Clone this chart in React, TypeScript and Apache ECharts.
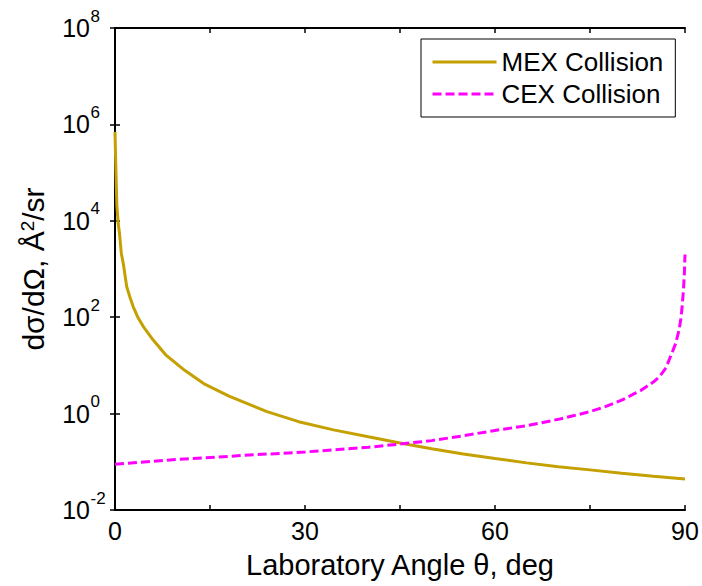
import React, { useEffect, useRef } from "react";
import * as echarts from "echarts";

const mexTheta = [0, 0.15, 0.3, 0.5, 0.7, 1.0, 1.3, 1.85, 2.4, 2.9, 3.6, 4.5, 6, 8, 11, 14, 18, 24, 29, 34.5, 40, 45, 50, 55, 60, 65, 70, 75, 80, 85, 90];
const mexValues = [7e5, 1e5, 2e4, 8900, 5600, 2100, 1320, 427, 250, 162, 100, 63, 34, 16.6, 7.9, 4.2, 2.3, 1.1, 0.68, 0.46, 0.33, 0.245, 0.186, 0.145, 0.117, 0.095, 0.079, 0.068, 0.058, 0.05, 0.044];

const cexTheta = [0, 10, 20, 30, 40, 45, 50, 55, 60, 65, 70, 72.5, 75, 77.5, 80, 81, 82, 83, 84, 85, 86, 87, 88, 88.5, 89, 89.3, 89.5, 89.75, 89.9, 90];
const cexValues = [0.089, 0.112, 0.135, 0.16, 0.2, 0.234, 0.275, 0.347, 0.447, 0.562, 0.76, 0.91, 1.1, 1.41, 1.9, 2.2, 2.6, 3.0, 3.7, 4.5, 5.9, 8.9, 19, 28, 50, 83, 141, 355, 800, 2000];

const xTickLabels = [0, 30, 60, 90];
const yTickExponents = [-2, 0, 2, 4, 6, 8];
const seriesNames = ["MEX Collision", "CEX Collision"];

const FONT = "'Liberation Sans', Arial, sans-serif";

export default function App() {
  const ref = useRef<HTMLDivElement>(null);
  useEffect(() => {
    document.body.style.margin = "0";
    const chart = echarts.init(ref.current!, undefined, { renderer: "svg" });
    const frameLine = { show: true, lineStyle: { color: "#000", width: 2 } };
    const tick = { show: true, inside: true, length: 5, lineStyle: { color: "#000", width: 1.5 } };
    const yBase = {
      type: "log",
      logBase: 10,
      min: 0.01,
      max: 1e8,
      interval: 2,
      axisLine: frameLine,
      axisTick: tick,
      minorTick: { show: false },
      splitLine: { show: false },
      axisLabel: { show: false },
    };
    chart.setOption({
      animation: false,
      backgroundColor: "#fff",
      grid: { left: 115, right: 17, top: 28, bottom: 76, containLabel: false },
      legend: {
        orient: "vertical",
        left: 421,
        top: 39,
        data: seriesNames,
        backgroundColor: "#fff",
        borderColor: "#000",
        borderWidth: 1,
        borderRadius: 0,
        padding: [10, 12, 10, 10],
        itemGap: 6,
        itemWidth: 64,
        itemHeight: 14,
        itemTextGap: 9,
        itemStyle: { opacity: 0 },
        lineStyle: { width: 3 },
        textStyle: { fontSize: 26, fontFamily: FONT, color: "#000" },
      },
      xAxis: [
        {
          type: "value",
          min: 0,
          max: 90,
          interval: 15,
          position: "bottom",
          axisLine: frameLine,
          axisTick: tick,
          splitLine: { show: false },
          axisLabel: {
            fontSize: 25,
            fontFamily: FONT,
            color: "#000",
            margin: 8,
            formatter: (v: number) => (xTickLabels.includes(v) ? String(v) : ""),
          },
          name: "Laboratory Angle θ, deg",
          nameLocation: "middle",
          nameGap: 40,
          nameTextStyle: { fontSize: 29, fontFamily: FONT, color: "#000" },
        },
        {
          type: "value",
          min: 0,
          max: 90,
          interval: 15,
          position: "top",
          axisLine: frameLine,
          axisTick: tick,
          splitLine: { show: false },
          axisLabel: { show: false },
        },
      ],
      yAxis: [
        {
          ...yBase,
          position: "left",
          name: "{n|dσ/dΩ, Å}{p|2}{n|/sr}",
          nameLocation: "middle",
          nameGap: 66,
          nameRotate: 90,
          nameTextStyle: {
            rich: {
              n: { fontSize: 30, fontFamily: FONT, color: "#000" },
              p: { fontSize: 19, fontFamily: FONT, color: "#000", padding: [0, 0, 12, 0] },
            },
          },
        },
        { ...yBase, position: "right" },
      ],
      series: [
        {
          name: seriesNames[0],
          type: "line",
          xAxisIndex: 0,
          yAxisIndex: 0,
          data: mexTheta.map((t, i) => [t, mexValues[i]]),
          symbol: "none",
          showSymbol: false,
          smooth: false,
          lineStyle: { color: "#C4A000", width: 3 },
          itemStyle: { color: "#C4A000" },
        },
        {
          name: seriesNames[1],
          type: "line",
          xAxisIndex: 0,
          yAxisIndex: 0,
          data: cexTheta.map((t, i) => [t, cexValues[i]]),
          symbol: "none",
          showSymbol: false,
          smooth: false,
          lineStyle: { color: "#FF00FF", width: 3, type: [9, 4] },
          itemStyle: { color: "#FF00FF" },
        },
      ],
    });

    // y tick labels: "10" with a raised exponent, positioned through the axis scale
    const labelRight = 90;
    const elements: any[] = [];
    yTickExponents.forEach((e) => {
      const py = chart.convertToPixel({ yAxisIndex: 0 }, Math.pow(10, e)) as number;
      elements.push({
        type: "text",
        x: labelRight,
        y: py,
        style: {
          text: "10",
          fontSize: 25,
          fontFamily: FONT,
          fill: "#000",
          align: "right",
          verticalAlign: "middle",
        },
      });
      elements.push({
        type: "text",
        x: labelRight + 0.5,
        y: py - 12,
        style: {
          text: String(e),
          fontSize: 17,
          fontFamily: FONT,
          fill: "#000",
          align: "left",
          verticalAlign: "middle",
        },
      });
    });
    chart.setOption({ graphic: elements });

    return () => chart.dispose();
  }, []);
  return <div ref={ref} style={{ width: 702, height: 586 }} />;
}
